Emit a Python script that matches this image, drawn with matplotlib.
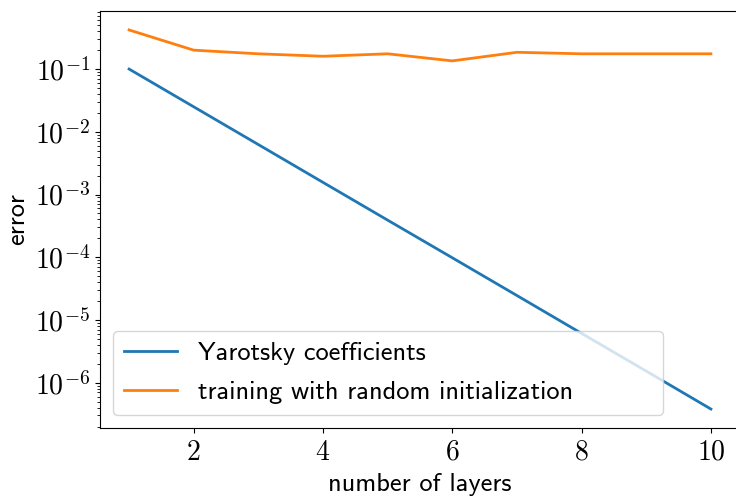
import math
import matplotlib
matplotlib.use("Agg")
import matplotlib.pyplot as plt
from matplotlib.ticker import FuncFormatter, NullFormatter, LogLocator

layers = [1, 2, 3, 4, 5, 6, 7, 8, 9, 10]
yarotsky = [1.0e-1, 2.5e-2, 6.25e-3, 1.56e-3, 3.9e-4, 9.8e-5, 2.45e-5, 6.1e-6, 1.53e-6, 3.8e-7]
random_init = [0.42, 0.20, 0.175, 0.16, 0.175, 0.135, 0.185, 0.175, 0.175, 0.175]

plt.rcParams['mathtext.fontset'] = 'cm'

fig = plt.figure(figsize=(7.36, 5.0), dpi=100)
ax = fig.add_axes([100/736, 1-428/500, 640/736, (428-11)/500])

ax.plot(layers, yarotsky, color='#1f77b4', lw=2, label='Yarotsky coefficients')
ax.plot(layers, random_init, color='#ff7f0e', lw=2, label='training with random initialization')
ax.set_yscale('log')
ax.yaxis.set_major_locator(LogLocator(base=10, numticks=20))
ax.yaxis.set_minor_locator(LogLocator(base=10, subs=range(2, 10), numticks=20))
ax.yaxis.set_major_formatter(FuncFormatter(lambda v, p: r'$10^{%d}$' % round(math.log10(v))))
ax.yaxis.set_minor_formatter(NullFormatter())
ax.set_xticks([2, 4, 6, 8, 10])
ax.xaxis.set_major_formatter(FuncFormatter(lambda v, p: r'$%d$' % v))
ax.tick_params(labelsize=20)
ax.set_xlabel('number of layers', family='cmss10', fontsize=19, labelpad=5)
ax.set_ylabel('error', family='cmss10', fontsize=19, labelpad=4)
leg = ax.legend(loc='lower left', bbox_to_anchor=(0, 0, 0.9, 1), mode='expand',
                prop={'family': 'cmss10', 'size': 19}, handlelength=2.0,
                labelspacing=0.6)

fig.savefig('out.png', dpi=100)
